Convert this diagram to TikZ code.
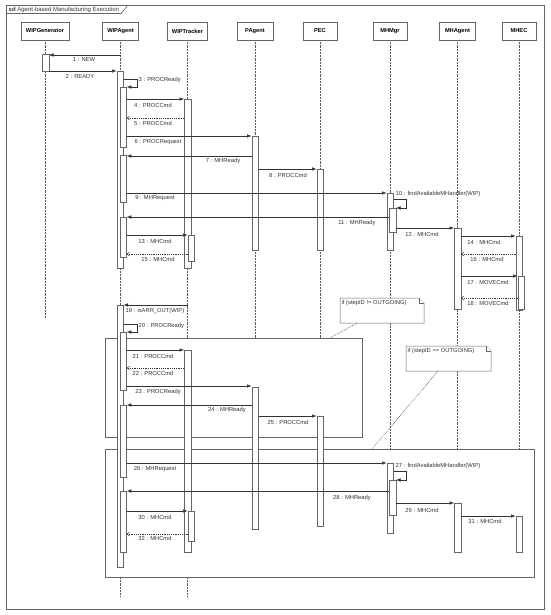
\documentclass[tikz,border=0pt]{standalone}
\usepackage{fontspec}
\setmainfont{Liberation Sans}
\usepackage{tikz}
\usetikzlibrary{arrows.meta}

% activation bar: name, x, top, bottom
\newcommand{\actbar}[4]{\node[actbox, minimum height={#4-#3}] (#1) at (#2,{(#3+#4)/2}) {};}

\begin{document}
\begin{tikzpicture}[x=1pt, y=-1pt,
  head/.style={draw=black!60, fill=white, minimum height=18pt, inner sep=1pt, font=\fontsize{5.7}{6}\selectfont\bfseries},
  life/.style={black!65, densely dotted, line width=0.45pt},
  actbox/.style={draw=black!60, fill=white, minimum width=6.5pt, inner sep=0pt, line width=0.5pt},
  msg/.style={-{Latex[length=4.5pt,width=3.5pt]}, line width=0.5pt, draw=black!80},
  ret/.style={-{Straight Barb[length=2.5pt,width=4pt]}, line width=0.5pt, draw=black!80, dash pattern=on 1.2pt off 1pt},
  lbl/.style={font=\fontsize{5.8}{6}\selectfont, text=black!80, inner sep=0.5pt},
  frag/.style={draw=black!60, fill=white, line width=0.6pt, inner sep=0pt, anchor=north west},
  notebox/.style={draw=black!60, fill=white, line width=0.5pt},
  link/.style={black!75, densely dotted, line width=0.6pt}]

\useasboundingbox (0,0) rectangle (550,615);

% Frame
\draw[black!60, line width=0.6pt] (6,5) rectangle (544,609);
\draw[black!60, line width=0.6pt] (6,13.5) -- (121,13.5) -- (127,6.5) -- (127,5);
\node[lbl, anchor=west, font=\fontsize{6}{7}\selectfont] (title) at (8,9.5) {\textbf{sd} Agent-based Manufacturing Execution};

% Lifelines
\foreach \n/\x/\w/\t in {gen/45/48/WIPGenerator, agt/120.5/36/WIPAgent, trk/187.5/40/WIPTracker,
    pag/255/36/PAgent, pec/320/34/PEC, mgr/390/34/MHMgr, mha/457.5/36/MHAgent, mhec/519/34/MHEC}
  \node[head, minimum width=\w] (\n) at (\x,31) {\t};

\draw[life] (gen.south) -- (gen.south |- 0,318);
\foreach \n in {agt,trk} \draw[life] (\n.south) -- (\n.south |- 0,597);
\foreach \n in {pag,pec,mgr,mha,mhec} \draw[life] (\n.south) -- (\n.south |- 0,540);

% Fragments
\node[frag, minimum width=257, minimum height=99] (alt1) at (105,338) {};
\node[frag, minimum width=429, minimum height=128] (alt2) at (105,449) {};

% Notes
\draw[notebox] (340,298) -- (419,298) -- (424,303) -- (424,323) -- (340,323) -- cycle;
\draw[notebox] (419,298) -- (419,303) -- (424,303);
\node[lbl, anchor=north west] (note1) at (341,300) {if (stepID != OUTGOING)};
\coordinate (n1end) at (357,323);
\draw[link] (n1end) -- (alt1.north west -| 330,0);

\draw[notebox] (406,346) -- (486,346) -- (491,351) -- (491,371) -- (406,371) -- cycle;
\draw[notebox] (486,346) -- (486,351) -- (491,351);
\node[lbl, anchor=north west] (note2) at (407,348) {if (stepID == OUTGOING)};
\coordinate (n2end) at (438,371);
\draw[link] (n2end) -- (alt2.north west -| 372,0);

% Activations
\actbar{genA}{45.5}{54}{71}
\actbar{agtA}{120}{71}{268}
\actbar{agtB}{123.25}{87}{147}
\actbar{agtC}{123.25}{155}{202}
\actbar{agtD}{123.25}{217}{257}
\actbar{trkA}{187.5}{99}{268}
\actbar{trkB}{191}{235}{261}
\actbar{pagA}{255}{136}{250}
\actbar{pecA}{320}{169}{250}
\actbar{mgrA}{390}{193}{250}
\actbar{mgrB}{392.5}{208}{232}
\actbar{mhaA}{457.5}{228}{309}
\actbar{mhecA}{519}{236}{310}
\actbar{mhecB}{521}{276}{309}
\actbar{agtE}{120}{305}{567}
\actbar{agtF}{123.25}{332}{390}
\actbar{agtG}{123.25}{405}{477}
\actbar{agtH}{123.25}{491}{552}
\actbar{trkC}{187.5}{350}{552}
\actbar{trkD}{191}{511}{541}
\actbar{pagB}{255}{387}{529}
\actbar{pecB}{320}{416}{526}
\actbar{mgrC}{390}{463}{533}
\actbar{mgrD}{392.5}{480}{515}
\actbar{mhaB}{457.5}{503}{552}
\actbar{mhecC}{519}{516}{552}

% Messages
\draw[msg] (agt.south |- 0,55) -- (genA.east |- 0,55);
\node[lbl] (m1) at (84,60) {1 : NEW};
\draw[msg] (genA.east |- 0,71) -- (agtA.west |- 0,71);
\node[lbl] (m2) at (80,76) {2 : READY};
\draw[msg] (agtA.east |- 0,79) -- (137,79) -- (137,87) -- (agtB.east |- 0,87);
\node[lbl, anchor=west] (m3) at (138,80) {3 : PROCReady};
\draw[msg] (agtB.east |- 0,99) -- (trkA.west |- 0,99);
\node[lbl] (m4) at (153,105) {4 : PROCCmd};
\draw[ret] (trkA.west |- 0,118) -- (agtB.east |- 0,118);
\node[lbl] (m5) at (153,123) {5 : PROCCmd};
\draw[msg] (agtB.east |- 0,136) -- (pagA.west |- 0,136);
\node[lbl] (m6) at (158,142) {6 : PROCRequest};
\draw[msg] (pagA.west |- 0,156) -- (agtC.east |- 0,156);
\node[lbl] (m7) at (223,161) {7 : MHReady};
\draw[msg] (pagA.east |- 0,169) -- (pecA.west |- 0,169);
\node[lbl] (m8) at (288,175) {8 : PROCCmd};
\draw[msg] (agtC.east |- 0,193) -- (mgrA.west |- 0,193);
\node[lbl] (m9) at (155,198) {9 : MHRequest};
\draw[msg] (mgrA.east |- 0,199) -- (406,199) -- (406,208) -- (mgrB.east |- 0,208);
\node[lbl, anchor=west] (m10) at (395,194) {10 : findAvailableMHandler(WIP)};
\draw[msg] (mgrB.west |- 0,217) -- (agtD.east |- 0,217);
\node[lbl] (m11) at (357,223) {11 : MHReady};
\draw[msg] (mgrB.east |- 0,228) -- (mhaA.west |- 0,228);
\node[lbl] (m12) at (422,234) {12 : MHCmd};
\draw[msg] (agtD.east |- 0,235) -- (trkB.west |- 0,235);
\node[lbl] (m13) at (155,241) {13 : MHCmd};
\draw[msg] (mhaA.east |- 0,236) -- (mhecA.west |- 0,236);
\node[lbl] (m14) at (484,242) {14 : MHCmd};
\draw[ret] (trkB.west |- 0,254) -- (agtD.east |- 0,254);
\node[lbl] (m15) at (158,259) {15 : MHCmd};
\draw[ret] (mhecA.west |- 0,254) -- (mhaA.east |- 0,254);
\node[lbl] (m16) at (487,259) {16 : MHCmd};
\draw[msg] (mhaA.east |- 0,276) -- (mhecB.west |- 0,276);
\node[lbl] (m17) at (488,282) {17 : MOVECmd};
\draw[ret] (mhecB.west |- 0,298) -- (mhaA.east |- 0,298);
\node[lbl] (m18) at (488,303) {18 : MOVECmd};

\draw[msg] (trk.south |- 0,305) -- (agtE.east |- 0,305);
\node[lbl] (m19) at (155,311) {19 : isARR\_OUT(WIP)};
\draw[msg] (agtE.east |- 0,324) -- (137,324) -- (137,332) -- (agtF.east |- 0,332);
\node[lbl, anchor=west] (m20) at (138,326) {20 : PROCReady};
\draw[msg] (agtF.east |- 0,350) -- (trkC.west |- 0,350);
\node[lbl] (m21) at (153,356) {21 : PROCCmd};
\draw[ret] (trkC.west |- 0,368) -- (agtF.east |- 0,368);
\node[lbl] (m22) at (153,373) {22 : PROCCmd};
\draw[msg] (agtF.east |- 0,386) -- (pagB.west |- 0,386);
\node[lbl] (m23) at (158,392) {23 : PROCReady};
\draw[msg] (pagB.west |- 0,405) -- (agtG.east |- 0,405);
\node[lbl] (m24) at (227,410) {24 : MHReady};
\draw[msg] (pagB.east |- 0,416) -- (pecB.west |- 0,416);
\node[lbl] (m25) at (288,422) {25 : PROCCmd};
\draw[msg] (agtG.east |- 0,463) -- (mgrC.west |- 0,463);
\node[lbl] (m26) at (155,469) {26 : MHRequest};
\draw[msg] (mgrC.east |- 0,471) -- (406,471) -- (406,480) -- (mgrD.east |- 0,480);
\node[lbl, anchor=west] (m27) at (395,466) {27 : findAvailableMHandler(WIP)};
\draw[msg] (mgrD.west |- 0,491) -- (agtH.east |- 0,491);
\node[lbl] (m28) at (352,498) {28 : MHReady};
\draw[msg] (mgrD.east |- 0,503) -- (mhaB.west |- 0,503);
\node[lbl] (m29) at (422,510) {29 : MHCmd};
\draw[msg] (agtH.east |- 0,511) -- (trkD.west |- 0,511);
\node[lbl] (m30) at (155,517) {30 : MHCmd};
\draw[msg] (mhaB.east |- 0,516) -- (mhecC.west |- 0,516);
\node[lbl] (m31) at (485,521) {31 : MHCmd};
\draw[ret] (trkD.west |- 0,534) -- (agtH.east |- 0,534);
\node[lbl] (m32) at (155,538) {32 : MHCmd};

\end{tikzpicture}
\end{document}
